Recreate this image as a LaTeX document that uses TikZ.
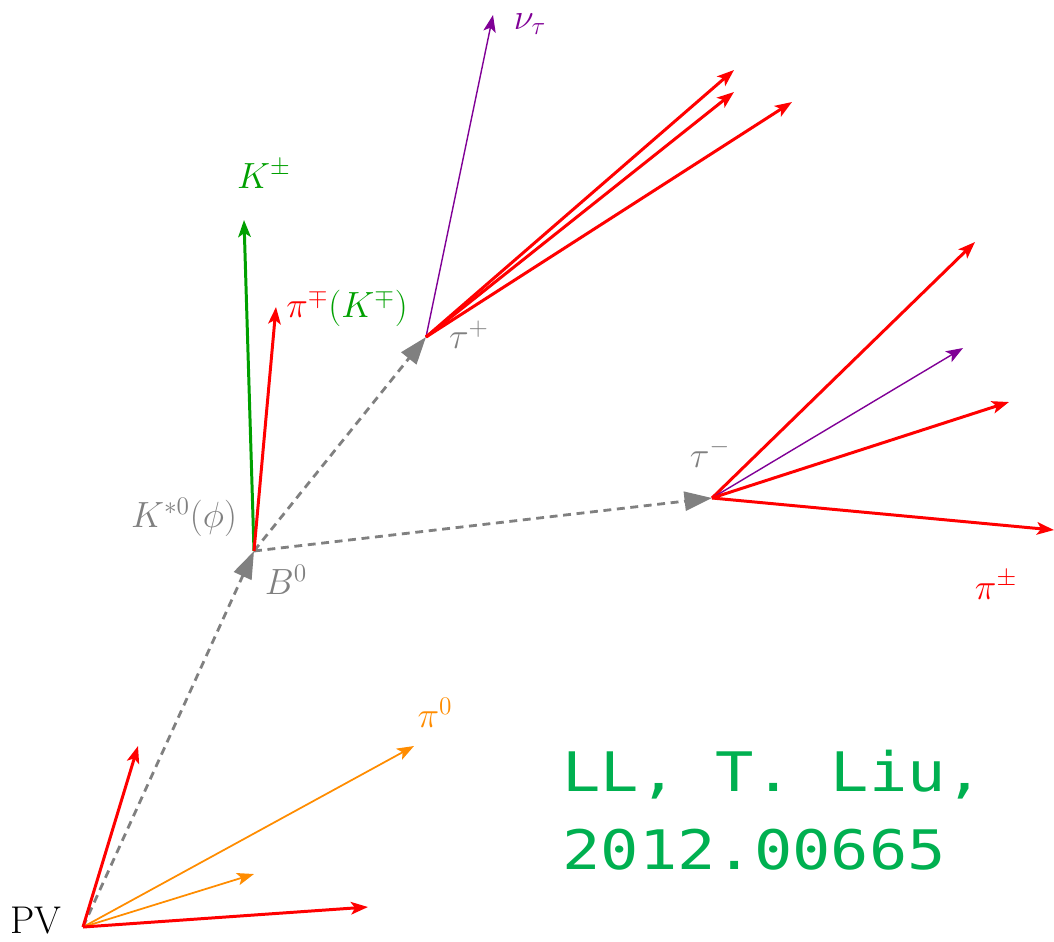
\documentclass[tikz,border=0pt]{standalone}
\usepackage{fontspec}
\usetikzlibrary{arrows.meta}
\newfontfamily\digifont[FakeStretch=1.17]{DejaVu Sans Mono}
\definecolor{kgreen}{RGB}{0,160,0}
\definecolor{tgreen}{RGB}{0,176,80}
\definecolor{porange}{RGB}{255,140,0}
\definecolor{nupurple}{RGB}{128,0,150}
\definecolor{vgray}{RGB}{128,128,128}
\begin{document}
\begin{tikzpicture}[x=0.02cm,y=-0.02cm,
  head/.style={-{Stealth[length=0.34cm,width=0.25cm,inset=0.08cm]}},
  redtrk/.style={head, red, line width=1.7pt},
  greentrk/.style={head, kgreen, line width=1.7pt},
  nutrk/.style={head, nupurple, line width=0.8pt},
  pi0trk/.style={head, porange, line width=1pt},
  mother/.style={vgray, line width=1.6pt, dash pattern=on 4.5pt off 3.2pt,
    -{Triangle[length=0.55cm,width=0.38cm]}},
  lab/.style={font=\fontsize{22}{26}\selectfont, inner sep=0pt},
  credit/.style={font=\digifont\fontsize{31}{44}\selectfont, text=tgreen, align=left, inner sep=0pt, anchor=north west}]
\useasboundingbox (0,0) rectangle (1054,941);
% vertices
\coordinate (PV) at (83,927);
\coordinate (B) at (254,551);
\coordinate (tp) at (426,337);
\coordinate (tm) at (712,498);
% track ends
\coordinate (pv1) at (138,746);
\coordinate (pv2) at (368,907);
\coordinate (pv3) at (254,874);
\coordinate (pv4) at (414,746);
\coordinate (kpm) at (244,220);
\coordinate (pimp) at (276,307);
\coordinate (nup) at (493,15);
\coordinate (tp1) at (734,70);
\coordinate (tp2) at (734,92);
\coordinate (tp3) at (792,102);
\coordinate (tm1) at (975,242);
\coordinate (num) at (963,348);
\coordinate (tm2) at (1009,402);
\coordinate (tm3) at (1054,530);
% mothers
\draw[mother] (PV) -- (B);
\draw[mother] (B) -- (tp);
\draw[mother] (B) -- (tm);
% PV tracks
\draw[pi0trk] (PV) -- (pv3);
\draw[pi0trk] (PV) -- (pv4);
\draw[redtrk] (PV) -- (pv1);
\draw[redtrk] (PV) -- (pv2);
% B decay
\draw[greentrk] (B) -- (kpm);
\draw[redtrk] (B) -- (pimp);
% tau+ decay
\draw[nutrk] (tp) -- (nup);
\draw[redtrk] (tp) -- (tp1);
\draw[redtrk] (tp) -- (tp2);
\draw[redtrk] (tp) -- (tp3);
% tau- decay
\draw[redtrk] (tm) -- (tm1);
\draw[nutrk] (tm) -- (num);
\draw[redtrk] (tm) -- (tm2);
\draw[redtrk] (tm) -- (tm3);
% labels
\node[lab] (PVlab) at (36,921) {PV};
\node[lab, text=porange] (pi0lab) at (435,713) {$\pi^0$};
\node[lab, text=vgray] (Blab) at (286,580) {$B^0$};
\node[lab, text=vgray] (Kslab) at (184,517) {$K^{*0}(\phi)$};
\node[lab, text=kgreen] (Klab) at (264,174) {$K^{\pm}$};
\node[lab] (pilab) at (347,308) {\textcolor{red}{$\pi^{\mp}$}\textcolor{kgreen}{$(K^{\mp})$}};
\node[lab, text=vgray] (tplab) at (469,335) {$\tau^+$};
\node[lab, text=nupurple] (nulab) at (530,24) {$\nu_\tau$};
\node[lab, text=vgray] (tmlab) at (710,453) {$\tau^-$};
\node[lab, text=red] (pipmlab) at (996,585) {$\pi^{\pm}$};
\node[credit] (cred) at (562,750) {LL, T. Liu,\\2012.00665};
\end{tikzpicture}
\end{document}
